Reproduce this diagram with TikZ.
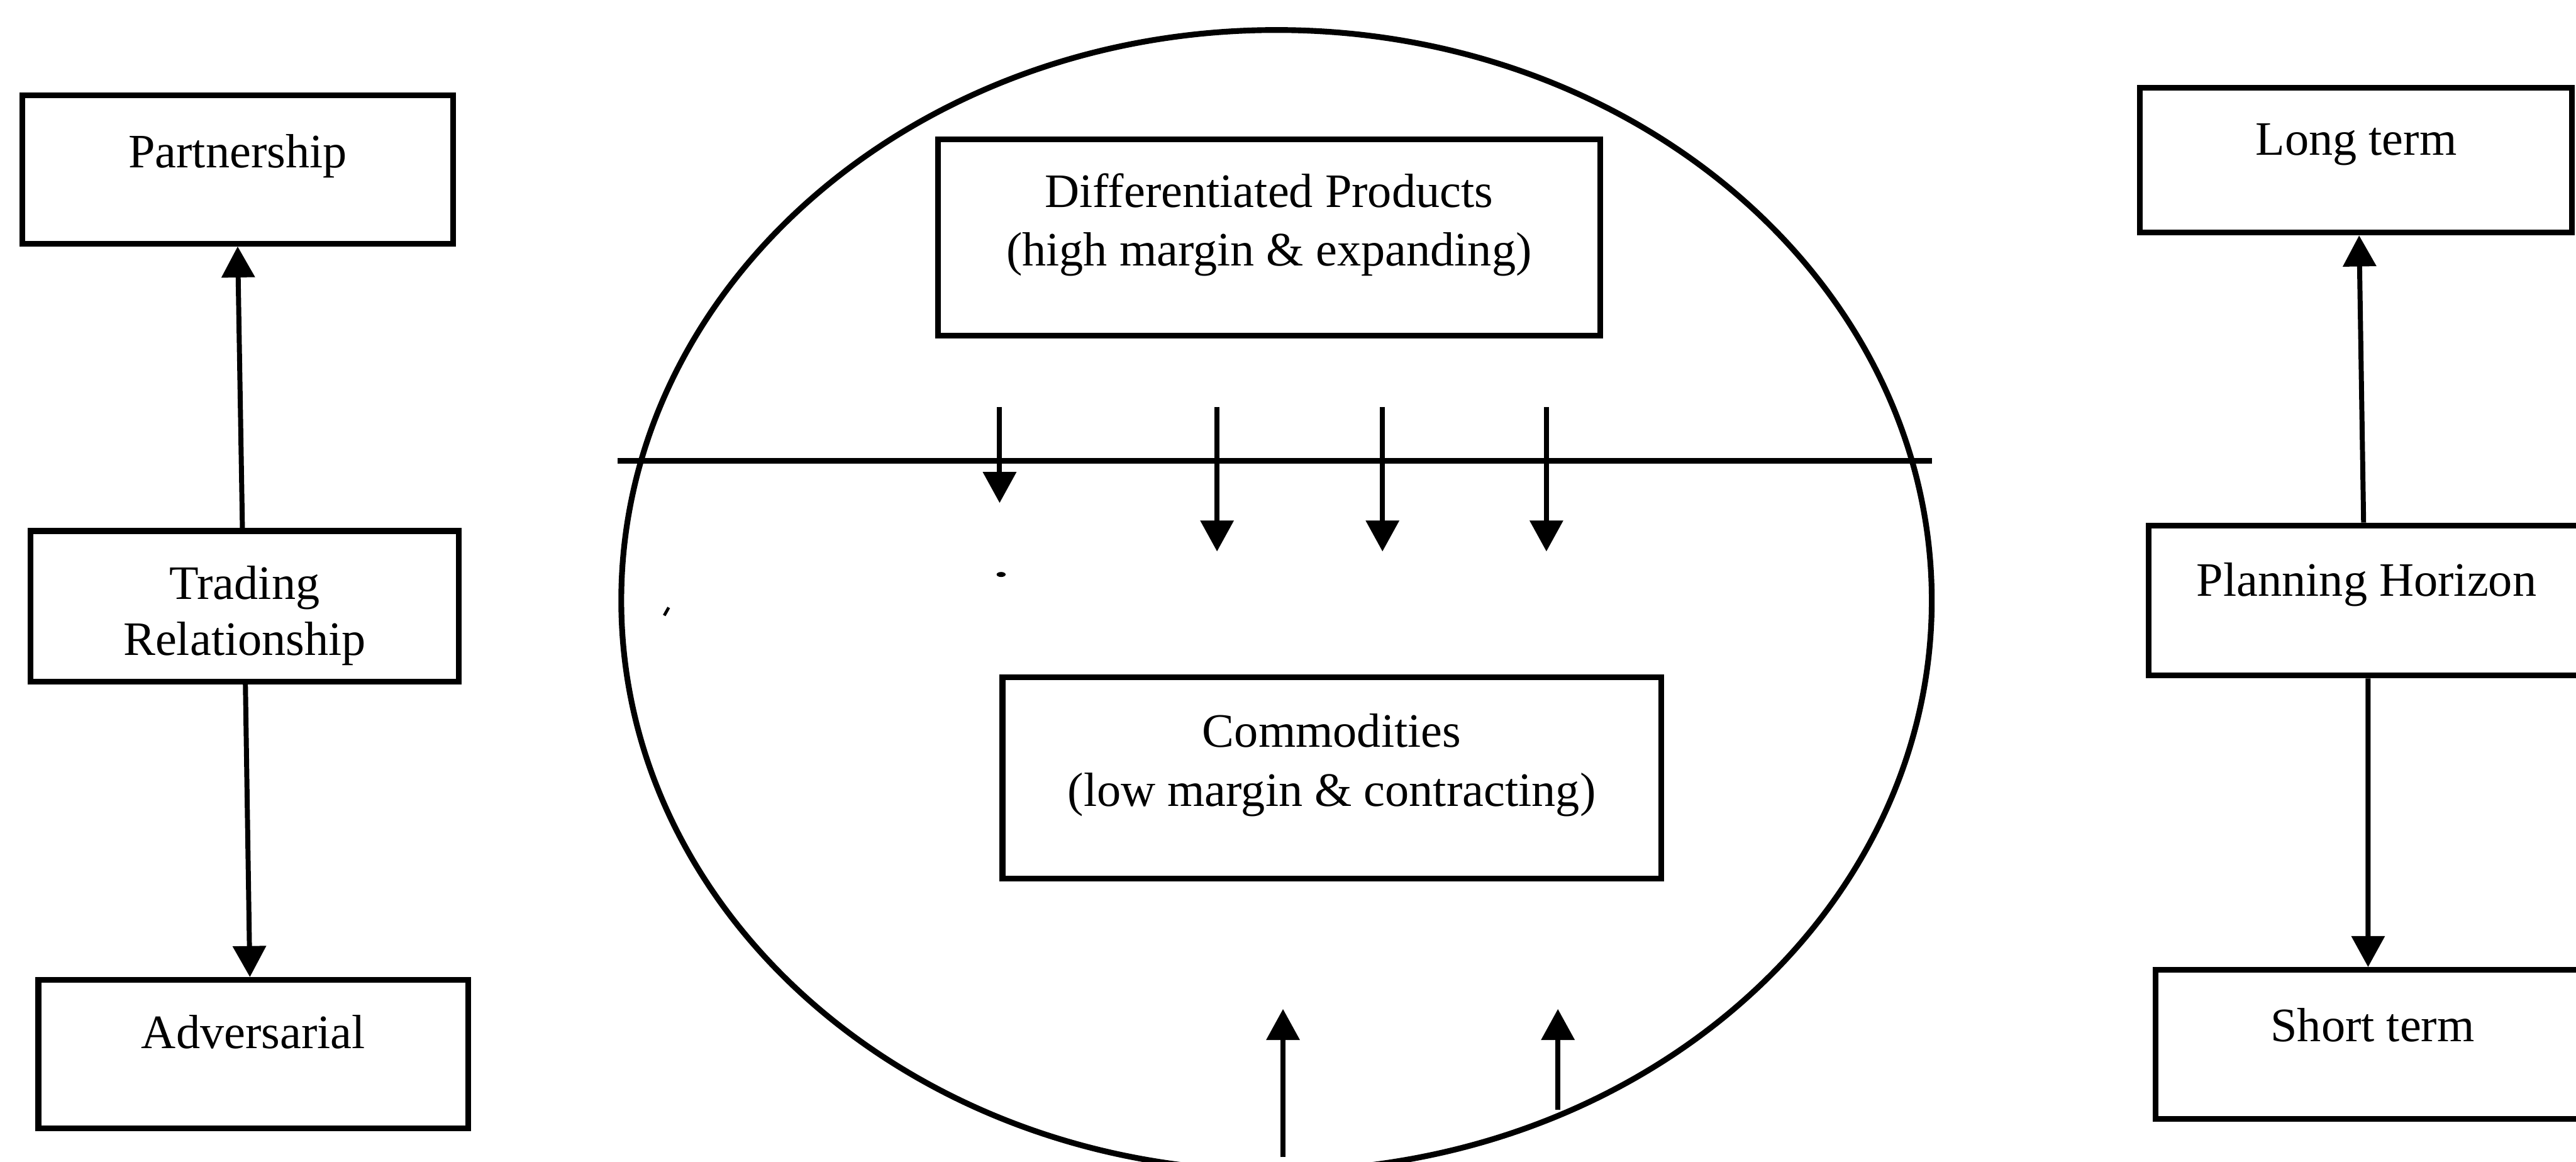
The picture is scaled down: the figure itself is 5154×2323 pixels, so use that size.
\documentclass[tikz,border=0pt]{standalone}
\usepackage{fontspec}
\setmainfont{Liberation Serif}
\usetikzlibrary{arrows.meta}
\begin{document}
\begin{tikzpicture}[x=0.01cm, y=0.01cm,
  box/.style={draw, rectangle, line width=0.115cm, inner sep=0pt},
  txt/.style={anchor=base, inner sep=0pt, font=\fontsize{27.3}{32}\selectfont},
  arr/.style={line width=0.1cm, -{Triangle[length=0.62cm, width=0.65cm]}},
  rule/.style={line width=0.115cm}]
\useasboundingbox (0,0) rectangle (5154,-2323);
\clip (0,0) rectangle (5154,-2323);

% ---- left column: trading relationship ----
\node[box, minimum width=8.61cm, minimum height=2.96cm] (partner) at (475.5,-339) {};
\node[box, minimum width=8.57cm, minimum height=3.01cm] (trade) at (489.5,-1212.5) {};
\node[box, minimum width=8.60cm, minimum height=2.97cm] (advers) at (507,-2108.5) {};
\node[txt] (partnerT) at (475.5,-335) {Partnership};
\node[txt] (tradeT1) at (489.5,-1198) {Trading};
\node[txt] (tradeT2) at (489.5,-1310) {Relationship};
\node[txt] (adversT) at (507,-2097) {Adversarial};
\draw[arr] ([xshift=-0.045cm]trade.north) -- (partner.south);
\draw[arr] ([xshift=0.015cm]trade.south) -- ([xshift=-0.07cm]advers.north);

% ---- right column: planning horizon ----
\node[box, minimum width=8.64cm, minimum height=2.89cm] (long) at (4714,-320.5) {};
\node[box, minimum width=8.72cm, minimum height=3.00cm] (plan) at (4735,-1201) {};
\node[box, minimum width=8.68cm, minimum height=2.98cm] (short) at (4747,-2089) {};
\node[txt] (longT) at (4714,-310) {Long term};
\node[txt] (planT) at (4735,-1192) {Planning Horizon};
\node[txt] (shortT) at (4747,-2083) {Short term};
\draw[arr] ([xshift=-0.06cm]plan.north) -- ([xshift=0.06cm]long.south);
\draw[arr] ([xshift=0.03cm]plan.south) -- ([xshift=-0.09cm]short.north);

% ---- centre: product circle ----
\draw[rule] (2554,-1201) ellipse [x radius=1311, y radius=1141];
\coordinate (hl) at (1236,-922);
\coordinate (hr) at (3866,-922);
\draw[rule] (hl) -- (hr);

\node[box, minimum width=13.24cm, minimum height=3.92cm] (diff) at (2539,-475) {};
\node[txt] (diffT1) at (2539,-415) {Differentiated Products};
\node[txt] (diffT2) at (2539,-532) {(high margin \& expanding)};

\node[box, minimum width=13.17cm, minimum height=4.02cm] (comm) at (2664.5,-1556) {};
\node[txt] (commT1) at (2664.5,-1494) {Commodities};
\node[txt] (commT2) at (2664.5,-1613) {(low margin \& contracting)};

% downward drift arrows
\coordinate (d1s) at (2000,-814);  \coordinate (d1e) at (2000,-1006);
\coordinate (d2s) at (2435,-814);  \coordinate (d2e) at (2435,-1103);
\coordinate (d3s) at (2766,-814);  \coordinate (d3e) at (2766,-1103);
\coordinate (d4s) at (3094,-814);  \coordinate (d4e) at (3094,-1103);
\draw[arr] (d1s) -- (d1e);
\draw[arr] (d2s) -- (d2e);
\draw[arr] (d3s) -- (d3e);
\draw[arr] (d4s) -- (d4e);

% upward arrows from the bottom
\coordinate (u1s) at (2567,-2314); \coordinate (u1e) at (2567,-2018);
\coordinate (u2s) at (3117,-2219); \coordinate (u2e) at (3117,-2018);
\draw[arr] (u1s) -- (u1e);
\draw[arr] (u2s) -- (u2e);

% stray specks
\fill (2003,-1149) ellipse [x radius=9, y radius=5];
\draw[line width=0.06cm] (1329,-1231) -- (1338,-1215);
\end{tikzpicture}
\end{document}
